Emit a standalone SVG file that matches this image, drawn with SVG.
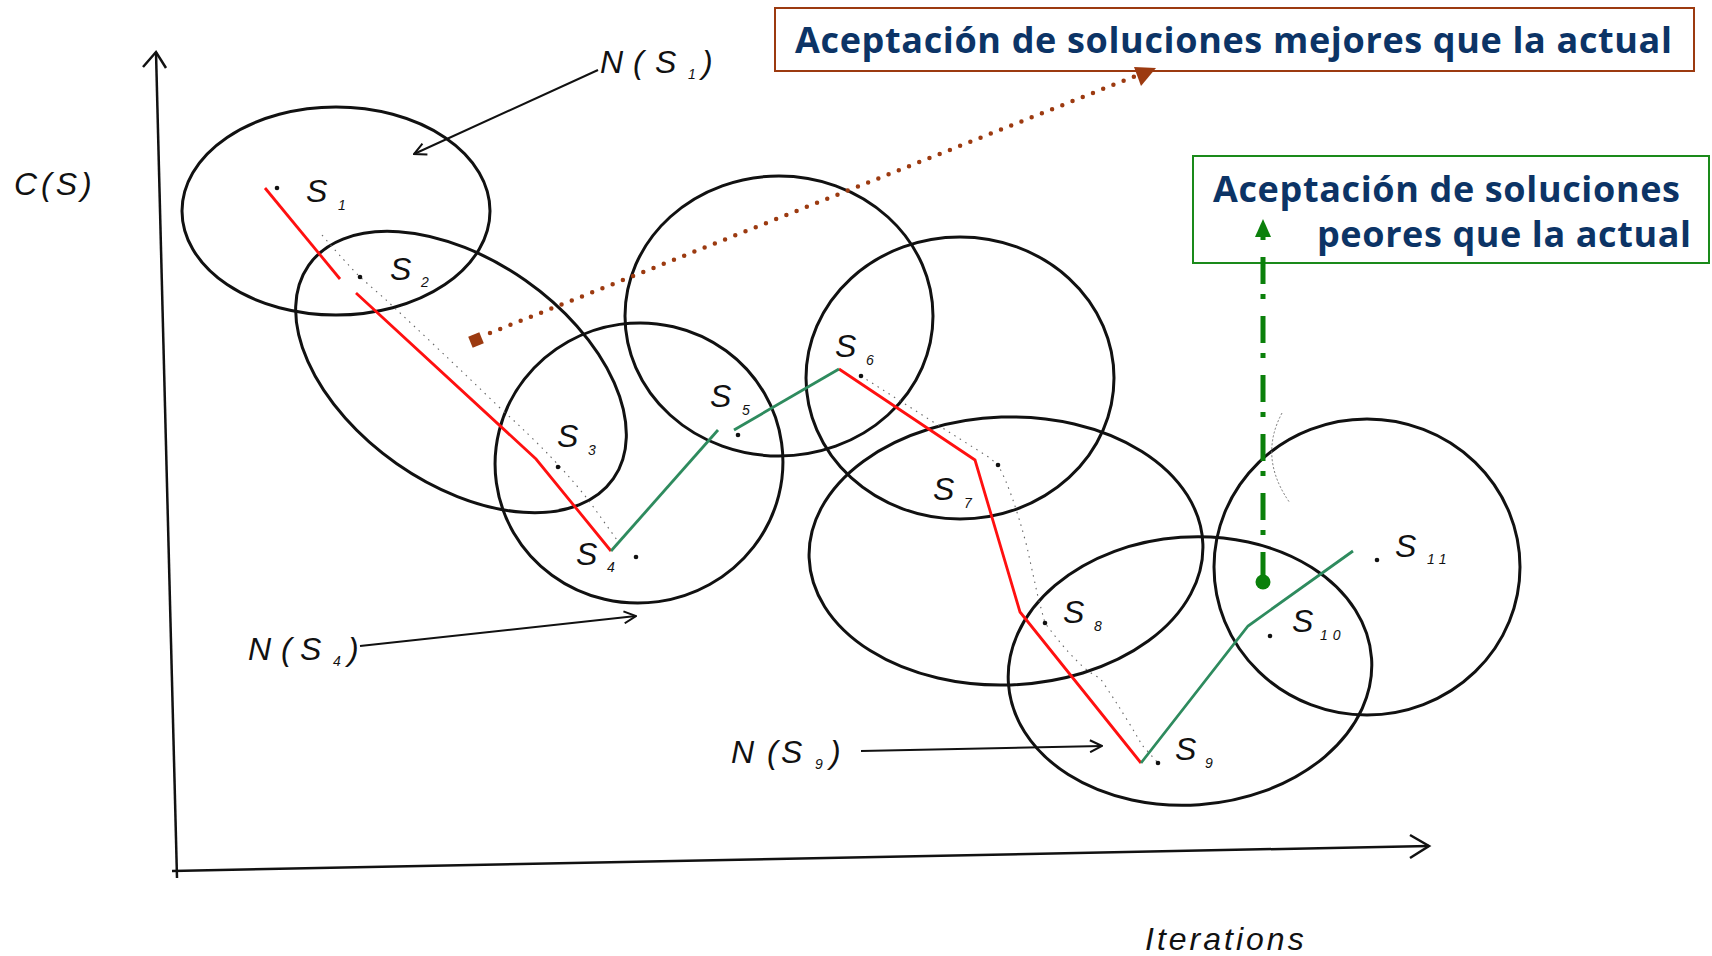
<svg xmlns="http://www.w3.org/2000/svg" width="1712" height="956" viewBox="0 0 1712 956">
<style>
.ell{fill:none;stroke:#111;stroke-width:3}
.ax{fill:none;stroke:#111;stroke-width:2.5}
.lbl{font-family:"Liberation Sans",Arial,sans-serif;font-style:italic;font-size:32px;fill:#111}
.sub{font-family:"Liberation Sans",Arial,sans-serif;font-style:italic;font-size:14px;fill:#111}
.dot{fill:#111}
.red{fill:none;stroke:#ff1010;stroke-width:2.8;stroke-linejoin:miter}
.grn{fill:none;stroke:#2e8b5e;stroke-width:2.8}
.faint{fill:none;stroke:#666;stroke-width:1.1;stroke-dasharray:1.5 5}
.box{font-family:"Open Sans","Noto Sans",sans-serif;font-weight:700;font-size:36px;fill:#0c3466}
</style>
<defs>
<marker id="open" viewBox="0 0 14 14" refX="13" refY="7" markerWidth="14" markerHeight="14" markerUnits="userSpaceOnUse" orient="auto">
<polyline points="1,1 13,7 1,13" fill="none" stroke="#111" stroke-width="2"/>
</marker>
</defs>
<rect width="1712" height="956" fill="#fff"/>

<g id="box-mejores">
<rect x="775" y="8" width="919" height="63" fill="#fff" stroke="#9c3a10" stroke-width="2"/>
<text class="box" x="795" y="53" textLength="877" lengthAdjust="spacing">Aceptación de soluciones mejores que la actual</text>
</g>
<g id="box-peores">
<rect x="1193" y="156" width="516" height="107" fill="#fff" stroke="#1a8a1a" stroke-width="2"/>
<text class="box" x="1213" y="202" textLength="467" lengthAdjust="spacing">Aceptación de soluciones</text>
<text class="box" x="1317" y="247" textLength="374" lengthAdjust="spacing">peores que la actual</text>
</g>

<g id="axes">
<line class="ax" x1="156" y1="52" x2="177" y2="878"/>
<polyline class="ax" points="143,67 156,52 166,68"/>
<line class="ax" x1="172" y1="871" x2="1429" y2="846"/>
<polyline class="ax" points="1410,835 1429,846 1410,858"/>
<text class="lbl" x="14" y="195" letter-spacing="4">C(S)</text>
<text class="lbl" x="1145" y="950" letter-spacing="3">Iterations</text>
</g>

<g id="N-S1"><ellipse class="ell" cx="336" cy="211" rx="154" ry="104"/>
<text class="lbl" x="600" y="73">N</text><text class="lbl" x="633" y="73">(</text><text class="lbl" x="655" y="73">S</text><text class="sub" x="688" y="79">1</text><text class="lbl" x="702" y="73">)</text></g>
<g id="N-S2"><ellipse class="ell" cx="461" cy="372" rx="186" ry="112" transform="rotate(35 461 372)"/></g>
<g id="N-S4"><ellipse class="ell" cx="639" cy="463" rx="144" ry="140" transform="rotate(-8 639 463)"/>
<text class="lbl" x="248" y="660">N</text><text class="lbl" x="281" y="660">(</text><text class="lbl" x="300" y="660">S</text><text class="sub" x="333" y="666">4</text><text class="lbl" x="348" y="660">)</text></g>
<g id="N-S5"><ellipse class="ell" cx="779" cy="316" rx="154" ry="140"/></g>
<g id="N-S6"><ellipse class="ell" cx="960" cy="378" rx="154" ry="141"/></g>
<g id="N-S7"><ellipse class="ell" cx="1006" cy="551" rx="197" ry="134" transform="rotate(-2 1006 551)"/></g>
<g id="N-S9"><ellipse class="ell" cx="1190" cy="671" rx="182" ry="134" transform="rotate(-4 1190 671)"/>
<text class="lbl" x="731" y="763">N</text><text class="lbl" x="767" y="763">(</text><text class="lbl" x="781" y="763">S</text><text class="sub" x="815" y="769">9</text><text class="lbl" x="830" y="763">)</text></g>
<g id="N-S11"><ellipse class="ell" cx="1367" cy="567" rx="153" ry="148"/></g>

<g id="connectors">
<path class="faint" d="M322,235 Q345,262 360,277 L385,299 Q440,350 500,408 Q560,462 592,505 L617,540"/>
<path class="faint" d="M861,376 Q930,420 990,458 L998,465 Q1012,490 1027,547 L1038,597 L1045,623 Q1080,670 1100,678 Q1125,715 1142,745 L1158,763"/>
<path d="M1282,413 Q1258,458 1290,503" fill="none" stroke="#777" stroke-width="1" stroke-dasharray="2 2"/>
<polyline class="red" points="265,188 340,279"/>
<polyline class="red" points="356,293 536,459 611,551"/>
<polyline class="red" points="839,369 975,460 1020,612 1141,763"/>
<polyline class="grn" points="611,551 718,430"/>
<polyline class="grn" points="734,430 839,369"/>
<polyline class="grn" points="1141,763 1248,626 1353,551"/>
<line x1="598" y1="70" x2="414" y2="154" stroke="#111" stroke-width="2" marker-end="url(#open)"/>
<line x1="360" y1="646" x2="636" y2="616" stroke="#111" stroke-width="2" marker-end="url(#open)"/>
<line x1="861" y1="751" x2="1102" y2="746" stroke="#111" stroke-width="2" marker-end="url(#open)"/>
<rect x="470" y="334" width="12" height="12" fill="#9c3a10" transform="rotate(-22 476 340)"/>
<line x1="490" y1="333" x2="1138" y2="75" stroke="#9c3a10" stroke-width="4.5" stroke-linecap="round" stroke-dasharray="0 11"/>
<polygon points="1156,68 1134,67 1141,86" fill="#9c3a10"/>
<line x1="1263" y1="235" x2="1263" y2="582" stroke="#0b800b" stroke-width="5" stroke-dasharray="27 10 5 17" stroke-dashoffset="37"/>
<polygon points="1263,219 1255,237 1271,237" fill="#0b800b"/>
<circle cx="1263" cy="582" r="7.5" fill="#0b800b"/>
</g>

<g id="S1"><circle class="dot" cx="277" cy="188" r="2.3"/><text class="lbl" x="306" y="202">S</text><text class="sub" x="338" y="210">1</text></g>
<g id="S2"><circle class="dot" cx="360" cy="277" r="2.3"/><text class="lbl" x="390" y="280">S</text><text class="sub" x="421" y="287">2</text></g>
<g id="S3"><circle class="dot" cx="558" cy="467" r="2.3"/><text class="lbl" x="557" y="447">S</text><text class="sub" x="588" y="455">3</text></g>
<g id="S4"><circle class="dot" cx="636" cy="557" r="2.3"/><text class="lbl" x="576" y="565">S</text><text class="sub" x="607" y="572">4</text></g>
<g id="S5"><circle class="dot" cx="738" cy="435" r="2.3"/><text class="lbl" x="710" y="407">S</text><text class="sub" x="742" y="415">5</text></g>
<g id="S6"><circle class="dot" cx="861" cy="376" r="2.3"/><text class="lbl" x="835" y="357">S</text><text class="sub" x="866" y="365">6</text></g>
<g id="S7"><circle class="dot" cx="998" cy="465" r="2.3"/><text class="lbl" x="933" y="500">S</text><text class="sub" x="964" y="508">7</text></g>
<g id="S8"><circle class="dot" cx="1045" cy="623" r="2.3"/><text class="lbl" x="1063" y="623">S</text><text class="sub" x="1094" y="631">8</text></g>
<g id="S9"><circle class="dot" cx="1158" cy="763" r="2.3"/><text class="lbl" x="1175" y="760">S</text><text class="sub" x="1205" y="768">9</text></g>
<g id="S10"><circle class="dot" cx="1270" cy="636" r="2.3"/><text class="lbl" x="1292" y="632">S</text><text class="sub" x="1320" y="640" letter-spacing="5">10</text></g>
<g id="S11"><circle class="dot" cx="1377" cy="560" r="2.3"/><text class="lbl" x="1395" y="557">S</text><text class="sub" x="1427" y="564" letter-spacing="5">11</text></g>
</svg>
